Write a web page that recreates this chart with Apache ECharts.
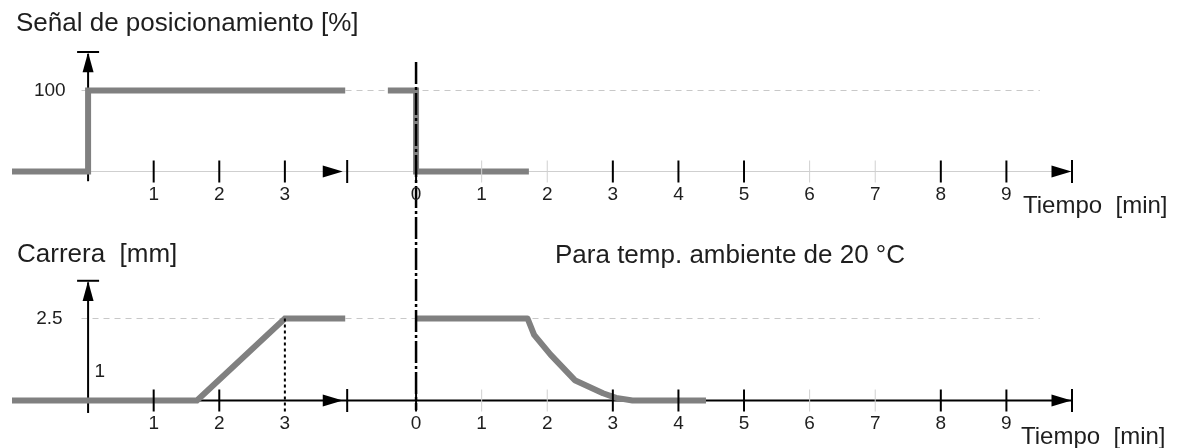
<!DOCTYPE html>
<html>
<head>
<meta charset="utf-8">
<script src="https://cdn.jsdelivr.net/npm/echarts@6/dist/echarts.min.js"></script>
<style>html,body{margin:0;padding:0;background:#fff}#c{width:1188px;height:448px}</style>
</head>
<body>
<div id="c"></div>
<script>
// ---- data (time in minutes; right-hand panel is plotted after the axis break) ----
const breakOffset = 5;               // right panel time 0 sits 5 units after left time 0
const xStart = -1.16, xEnd = 15;     // visible time span of the combined axis

const leftSignalT  = [xStart, 0, 0, 3.92];
const leftSignalV  = [0, 0, 100, 100];
const rightSignalT = [-0.43, 0, 0, 1.72];
const rightSignalV = [100, 100, 0, 0];

const leftStrokeT  = [xStart, 1.66, 3.0, 3.92];
const leftStrokeV  = [0, 0, 2.5, 2.5];
const rightStrokeT = [0, 1.70, 1.80, 2.05, 2.42, 2.85, 3.05, 3.30, 4.42];
const rightStrokeV = [2.5, 2.5, 2.0, 1.40, 0.62, 0.22, 0.08, 0, 0];

const leftTicksTop     = [1, 2, 3];
const leftTicksBottom  = [1, 2];
const leftDottedTick   = 3;
const rightTicksBold   = [0, 3, 4, 5, 8, 9];
const rightTicksFaint  = [1, 2, 6, 7];

const signalMax = 100, strokeMax = 2.5;
const signalLabel = '100', strokeLabel = '2.5';

const titleTop    = 'Señal de posicionamiento [%]';
const titleBottom = 'Carrera  [mm]';
const noteText    = 'Para temp. ambiente de 20 °C';
const timeLabel   = 'Tiempo  [min]';
const stepMarker  = '1';

// ---- helpers ----
const FONT = '"Liberation Sans", Arial, sans-serif';
const TXT = '#1e1e1e';
const GRAY = '#808080';
const TICK_FS = 19;

function pts(ts, vs, off) { return ts.map((t, i) => [t + off, vs[i]]); }
function line(grid, data, style, z) {
  return { type: 'line', xAxisIndex: grid, yAxisIndex: grid, data, symbol: 'none',
    clip: false, silent: true, animation: false, z: z || 2, lineStyle: style };
}
function marks(grid, data, sym, size, color, extra) {
  return Object.assign({ type: 'scatter', xAxisIndex: grid, yAxisIndex: grid, data,
    symbol: sym, symbolSize: size, clip: false, silent: true, animation: false, z: 5,
    itemStyle: { color: color, opacity: 1 } }, extra || {});
}
const tickLabel = { show: true, position: 'bottom', distance: 3, fontSize: TICK_FS,
  fontFamily: FONT, color: TXT, formatter: p => p.data[2] };

function tickData(list, off) { return list.map(t => [t + off, 0, String(t)]); }

const series = [];
[0, 1].forEach(g => {
  // axis lines
  series.push(line(g, [[xStart, 0], [xEnd, 0]],
    g === 0 ? { color: '#cfcfcf', width: 1 } : { color: '#000', width: 2 }, 1));
  // reference dashed line
  const ref = g === 0 ? signalMax : strokeMax;
  series.push(line(g, [[-0.1, ref], [14.51, ref]], { color: '#c8c8c8', width: 1, type: [6, 5] }, 1));
  // x-axis arrow heads and break bars
  series.push(marks(g, [[3.73, 0], [breakOffset + 9.84, 0]], 'triangle', [12, 20], '#000', { symbolRotate: -90 }));
  series.push(marks(g, [[3.95, 0], [xEnd, 0]], 'rect', [2, 23], '#000'));
  // ticks
  series.push(marks(g, tickData(g === 0 ? leftTicksTop : leftTicksBottom, 0), 'rect', [2, 22], '#000', { label: tickLabel }));
  series.push(marks(g, tickData(rightTicksBold, breakOffset), 'rect', [2, 22], '#000', { label: tickLabel }));
  series.push(marks(g, tickData(rightTicksFaint, breakOffset), 'rect', [1, 22], '#d0d0d0', { label: tickLabel }));
});
// label for left 3 in bottom panel (dotted tick)
series.push(marks(1, tickData([leftDottedTick], 0), 'rect', [2, 22], 'rgba(0,0,0,0)', { label: tickLabel }));

// y arrows
series.push(line(0, [[0, -12], [0, 145]], { color: '#000', width: 2 }, 1));
series.push(marks(0, [[0, 135]], 'triangle', [11, 20], '#000'));
series.push(marks(0, [[0, 147.5]], 'rect', [22, 2], '#000'));
series.push(line(1, [[0, -0.38], [0, 3.6]], { color: '#000', width: 2 }, 1));
series.push(marks(1, [[0, 3.34]], 'triangle', [11, 20], '#000'));
series.push(marks(1, [[0, 3.65]], 'rect', [22, 2], '#000'));

// y value labels
const yLab = (d) => ({ show: true, position: 'left', distance: d, fontSize: TICK_FS, fontFamily: FONT, color: TXT, formatter: p => p.data[2] });
series.push(marks(0, [[0, signalMax, signalLabel]], 'rect', [1, 1], 'rgba(0,0,0,0)', { label: yLab(22) }));
series.push(marks(1, [[0, strokeMax, strokeLabel]], 'rect', [1, 1], 'rgba(0,0,0,0)', { label: yLab(25) }));
series.push(marks(1, [[0, 0.87, stepMarker]], 'rect', [1, 1], 'rgba(0,0,0,0)',
  { label: { show: true, position: 'right', distance: 6, fontSize: TICK_FS, fontFamily: FONT, color: TXT, formatter: p => p.data[2] } }));

// data curves
const dataStyle = { color: GRAY, width: 6, cap: 'butt', join: 'miter' };
series.push(line(0, pts(leftSignalT, leftSignalV, 0), dataStyle, 3));
series.push(line(0, pts(rightSignalT, rightSignalV, breakOffset), dataStyle, 3));
series.push(line(1, pts(leftStrokeT, leftStrokeV, 0), dataStyle, 3));
series.push(line(1, pts(rightStrokeT, rightStrokeV, breakOffset), Object.assign({}, dataStyle, { join: 'round' }), 3));

// dotted drop line at left 3 min
series.push(line(1, [[leftDottedTick, strokeMax], [leftDottedTick, -0.41]], { color: '#000', width: 2, type: [3, 3] }, 4));
// dash-dot break line at right time 0
series.push(line(1, [[breakOffset, 10.32], [breakOffset, -0.29]], { color: '#000', width: 2.5, type: [22, 3, 3, 3] }, 4));

const titleStyle = { fontSize: 26, fontWeight: 'normal', fontFamily: FONT, color: TXT };
const timeStyle = Object.assign({}, titleStyle, { fontSize: 24 });
const option = {
  backgroundColor: '#fff',
  animation: false,
  title: [
    { text: titleTop, left: 16, top: 11, padding: 0, textStyle: titleStyle },
    { text: titleBottom, left: 17, top: 242, padding: 0, textStyle: titleStyle },
    { text: noteText, left: 555, top: 243, padding: 0, textStyle: titleStyle },
    { text: timeLabel, left: 1023, top: 194, padding: 0, textStyle: timeStyle },
    { text: timeLabel, left: 1021, top: 425, padding: 0, textStyle: timeStyle }
  ],
  grid: [
    { left: 12, width: 1060, top: 50, height: 141.75 },
    { left: 12, width: 1060, top: 269.3, height: 147.6 }
  ],
  xAxis: [
    { gridIndex: 0, type: 'value', min: xStart, max: xEnd, show: false },
    { gridIndex: 1, type: 'value', min: xStart, max: xEnd, show: false }
  ],
  yAxis: [
    { gridIndex: 0, type: 'value', min: -25, max: 150, show: false },
    { gridIndex: 1, type: 'value', min: -0.5, max: 4, show: false }
  ],
  series
};
echarts.init(document.getElementById('c'), null, { renderer: 'canvas' }).setOption(option);
</script>
</body>
</html>
